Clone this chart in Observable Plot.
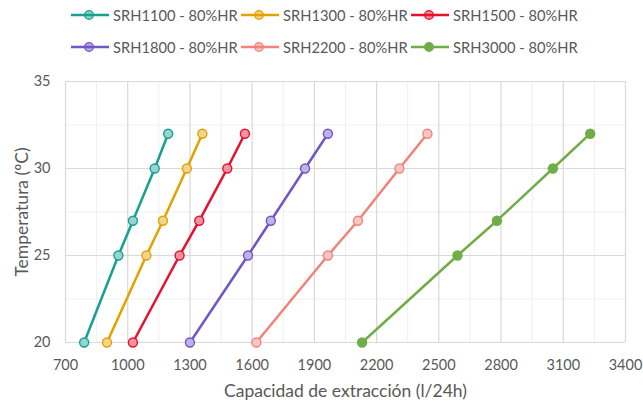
<!DOCTYPE html>
<html>
<head>
<meta charset="utf-8">
<script src="https://cdn.jsdelivr.net/npm/d3@7"></script>
<script src="https://cdn.jsdelivr.net/npm/@observablehq/plot@0.6"></script>
<style>
  body { margin: 0; background: #fff; font-family: Lato, "Liberation Sans", sans-serif; }
  #wrap { width: 643px; height: 402px; position: relative; overflow: hidden; }
  #legend { height: 65px; position: relative; }
  .row { position: absolute; left: 71px; display: flex; }
  .item { display: flex; align-items: center; width: 170px; font-size: 14.7px; color: #595959; white-space: nowrap; }
  .item svg { margin-right: 4px; }
</style>
</head>
<body>
<div id="wrap">
  <div id="legend"></div>
  <div id="chart"></div>
</div>
<script>
const temps = [20, 25, 27, 30, 32];
const seriesNames = ["SRH1100 - 80%HR", "SRH1300 - 80%HR", "SRH1500 - 80%HR", "SRH1800 - 80%HR", "SRH2200 - 80%HR", "SRH3000 - 80%HR"];
const srh1100 = [790, 955, 1025, 1130, 1195];
const srh1300 = [900, 1090, 1170, 1285, 1360];
const srh1500 = [1025, 1250, 1345, 1480, 1565];
const srh1800 = [1300, 1580, 1690, 1855, 1965];
const srh2200 = [1620, 1965, 2110, 2310, 2445];
const srh3000 = [2130, 2590, 2780, 3050, 3230];
const colors = ["#17A092", "#E3A100", "#E8102C", "#7155C9", "#F2827C", "#70AD47"];
const xTicks = [700, 1000, 1300, 1600, 1900, 2200, 2500, 2800, 3100, 3400];
const xMinor = [850, 1150, 1450, 1750, 2050, 2350, 2650, 2950, 3250];
const yTicks = [20, 25, 30, 35];
const yMinor = [22.5, 27.5, 32.5];
const xTitle = "Capacidad de extracción (l/24h)";
const yTitle = "Temperatura (ºC)";

const allSeries = [srh1100, srh1300, srh1500, srh1800, srh2200, srh3000];
const data = [];
allSeries.forEach((vals, i) => vals.forEach((v, j) => data.push({series: seriesNames[i], x: v, y: temps[j], solid: i === 5})));

// Legend
const legend = document.getElementById("legend");
[[0, 3, 6], [3, 6, 38]].forEach(([a, b, top]) => {
  const row = document.createElement("div");
  row.className = "row";
  row.style.top = top + "px";
  for (let i = a; i < b; i++) {
    const it = document.createElement("div");
    it.className = "item";
    const solid = i === 5;
    it.innerHTML = `<svg width="38" height="12"><line x1="0" y1="6" x2="38" y2="6" stroke="${colors[i]}" stroke-width="2.5"/><circle cx="18" cy="6" r="4.3" fill="${colors[i]}" fill-opacity="${solid ? 1 : 0.5}" stroke="${colors[i]}" stroke-width="1.3"/></svg><span>${seriesNames[i]}</span>`;
    row.appendChild(it);
  }
  legend.appendChild(row);
});

const chart = Plot.plot({
  width: 643,
  height: 337,
  marginTop: 16,
  marginBottom: 60,
  marginLeft: 65,
  marginRight: 18,
  style: { fontFamily: "Lato, 'Liberation Sans', sans-serif", fontSize: "14.5px", color: "#595959", background: "#fff" },
  x: { domain: [700, 3400] },
  y: { domain: [20, 35] },
  color: { domain: seriesNames, range: colors },
  marks: [
    Plot.ruleX(xMinor, { stroke: "#efefef", strokeWidth: 1 }),
    Plot.ruleY(yMinor, { stroke: "#efefef", strokeWidth: 1 }),
    Plot.ruleX(xTicks, { stroke: "#d9d9d9", strokeWidth: 1.2 }),
    Plot.ruleY(yTicks, { stroke: "#d9d9d9", strokeWidth: 1.2 }),
    Plot.axisX({ ticks: xTicks, tickSize: 0, tickPadding: 17, tickFormat: d => String(d), label: null, fontSize: "14.5px" }),
    Plot.axisY({ ticks: yTicks, tickSize: 0, tickPadding: 15, tickFormat: d => String(d), label: null, fontSize: "14.5px" }),
    Plot.text([xTitle], { frameAnchor: "bottom", dy: 54, text: d => d, fontSize: 17.5, fill: "#595959", fontWeight: 400 }),
    Plot.text([yTitle], { frameAnchor: "left", textAnchor: "middle", dx: -43, rotate: -90, text: d => d, fontSize: 17.5, fill: "#595959", fontWeight: 400 }),
    Plot.line(data, { x: "x", y: "y", z: "series", stroke: "series", strokeWidth: 2.5 }),
    Plot.dot(data, { x: "x", y: "y", r: 4.5, fill: "white", stroke: "none" }),
    Plot.dot(data, { x: "x", y: "y", r: 4.5, fill: "series", fillOpacity: d => d.solid ? 1 : 0.45, stroke: "series", strokeWidth: 1.4 })
  ]
});
document.getElementById("chart").appendChild(chart);
</script>
</body>
</html>
